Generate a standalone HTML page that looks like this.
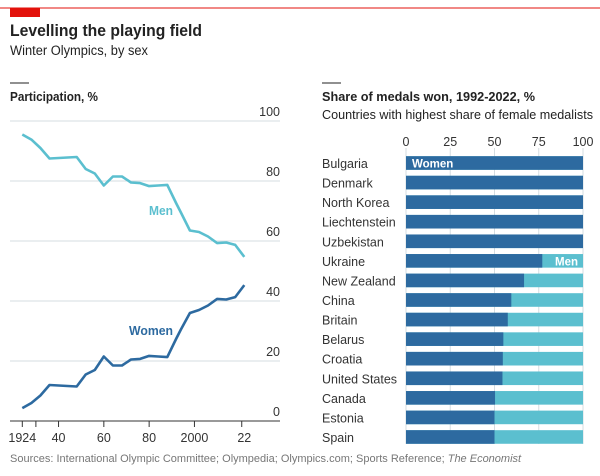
<!DOCTYPE html>
<html><head><meta charset="utf-8"><style>
body{margin:0;background:#fff;width:600px;height:471px;overflow:hidden;font-family:"Liberation Sans",sans-serif}
svg text{font-family:"Liberation Sans",sans-serif}
</style></head><body>
<svg id="c" width="600" height="471">
<rect x="0" y="7.5" width="600" height="1" fill="#e3120b"/>
<rect x="10" y="8" width="30" height="9" fill="#e3120b"/>
<text x="10" y="36" font-size="16.5" font-weight="bold" fill="#222" textLength="192" lengthAdjust="spacingAndGlyphs">Levelling the playing field</text>
<text x="10" y="55" font-size="13.5" fill="#222" textLength="138" lengthAdjust="spacingAndGlyphs">Winter Olympics, by sex</text>
<rect x="10" y="82.5" width="19" height="1" fill="#222"/>
<text x="10" y="101" font-size="12.5" font-weight="bold" fill="#222" textLength="88" lengthAdjust="spacingAndGlyphs">Participation, %</text>
<rect x="322" y="82.5" width="19" height="1" fill="#222"/>
<text x="322" y="101" font-size="12.5" font-weight="bold" fill="#222" textLength="213" lengthAdjust="spacingAndGlyphs">Share of medals won, 1992-2022, %</text>
<text x="322" y="119" font-size="12.5" fill="#222" textLength="271" lengthAdjust="spacingAndGlyphs">Countries with highest share of female medalists</text>
<text x="10" y="462" font-size="11" fill="#777">Sources: International Olympic Committee; Olympedia; Olympics.com; Sports Reference; <tspan font-style="italic">The Economist</tspan></text>
<g id="left"></g><g id="right"></g>
</svg>
<script>
const years=[1924,1928,1932,1936,1948,1952,1956,1960,1964,1968,1972,1976,1980,1984,1988,1992,1994,1998,2002,2006,2010,2014,2018,2022];
const men=[95.5,93.8,91,87.5,88,84,82.5,78.5,81.5,81.5,79.5,79.3,78.3,78.5,78.7,72.5,69.5,63.5,63,61.5,59.3,59.5,58.7,54.7];
const women=[4.3,6,8.5,12,11.5,15.5,17,21.5,18.5,18.5,20.5,20.7,21.7,21.5,21.3,27.5,30.5,36,37,38.5,40.7,40.5,41.3,45.3];
const yTicks=[0,20,40,60,80,100];
const xTicks=[1924,1930,1940,1960,1980,2000,2020];
const xTickLabels=["1924","","40","60","80","2000","22"];
const countries=["Bulgaria","Denmark","North Korea","Liechtenstein","Uzbekistan","Ukraine","New Zealand","China","Britain","Belarus","Croatia","United States","Canada","Estonia","Spain"];
const womenShare=[100,100,100,100,100,77,66.7,59.5,57.5,55,54.7,54.5,50.3,50,50];
const shareTicks=[0,25,50,75,100];
const NS="http://www.w3.org/2000/svg";
function mk(p,t,a,txt){const e=document.createElementNS(NS,t);for(const k in a)e.setAttribute(k,a[k]);if(txt!=null)e.textContent=txt;p.appendChild(e);return e;}
const L=document.getElementById('left'),R=document.getElementById('right');
const xs=y=>22.3+(y-1924)*2.265, ys=v=>421-v*3;
yTicks.forEach(v=>{
 const g=mk(L,'line',{x1:10,x2:280,y1:ys(v),y2:ys(v),stroke:v===0?'#333':'#d5dde2','stroke-width':1});
 
 
 const t=mk(L,'text',{x:280,y:ys(v)-5,'text-anchor':'end','font-size':12.5,fill:'#333'},String(v));
 
 
});
xTicks.forEach((y,i)=>{
 const tk=mk(L,'line',{x1:xs(y)+(y===2020?2:0),x2:xs(y)+(y===2020?2:0),y1:421,y2:427,stroke:'#333'});
 
 
 if(xTickLabels[i]){const t=mk(L,'text',{x:y===2020?xs(2022):xs(y),y:442,'text-anchor':'middle','font-size':12.5,fill:'#333'},xTickLabels[i]);
 
 }
});
function line(arr,col,name){const d=arr.map((v,i)=>(i?'L':'M')+xs(years[i]).toFixed(1)+' '+ys(v).toFixed(1)).join(' ');
 const p=mk(L,'path',{d:d,fill:'none',stroke:col,'stroke-width':2.6,'stroke-linejoin':'round'});
 
 }
line(men,'#5bbfcf','men-line');line(women,'#2d6aa0','women-line');
let t=mk(L,'text',{x:149,y:215,'font-size':13,'font-weight':'bold',fill:'#5bbfcf',textLength:24,lengthAdjust:'spacingAndGlyphs'},'Men');


t=mk(L,'text',{x:129,y:335,'font-size':13,'font-weight':'bold',fill:'#2d6aa0',textLength:44,lengthAdjust:'spacingAndGlyphs'},'Women');


const bx=v=>406+v*1.77, rowY=i=>163+i*19.57;
shareTicks.forEach(v=>{
 const g=mk(R,'line',{x1:bx(v),x2:bx(v),y1:148,y2:444,stroke:'#d5dde2'});
 
 
 const tt=mk(R,'text',{x:bx(v),y:146,'text-anchor':'middle','font-size':12.5,fill:'#333'},String(v));
 
 
});
countries.forEach((c,i)=>{
 const y=rowY(i);
 const lb=mk(R,'text',{x:322,y:y+5,'font-size':12.5,fill:'#333'},c);
 
 
 const m=mk(R,'rect',{x:bx(0),y:y-6.8,width:bx(100)-bx(0),height:13.6,fill:'#5bbfcf'});
 
 
 const w=mk(R,'rect',{x:bx(0),y:y-6.8,width:bx(womenShare[i])-bx(0),height:13.6,fill:'#2d6aa0'});
 
 
});
t=mk(R,'text',{x:412,y:rowY(0)+4.5,'font-size':11.5,'font-weight':'bold',fill:'#fff'},'Women');


t=mk(R,'text',{x:578,y:rowY(5)+4.5,'text-anchor':'end','font-size':11.5,'font-weight':'bold',fill:'#fff'},'Men');


</script>
</body></html>
